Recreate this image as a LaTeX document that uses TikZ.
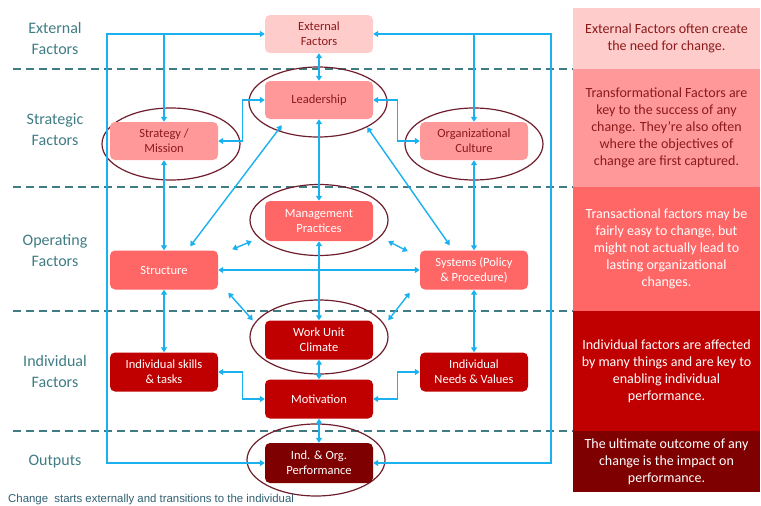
\documentclass[tikz,border=0pt]{standalone}
\usepackage{fontspec}
\setmainfont{Carlito}
\newfontfamily\capfont{Liberation Sans}
\usetikzlibrary{arrows.meta,calc}
\definecolor{lnk}{HTML}{1BB0EE}
\definecolor{dashc}{HTML}{3F7C84}
\definecolor{ell}{HTML}{6E1F2D}
\definecolor{cA}{HTML}{FFCCCC}
\definecolor{cB}{HTML}{FF9999}
\definecolor{cC}{HTML}{FF6666}
\definecolor{cD}{HTML}{C00000}
\definecolor{cE}{HTML}{7F0000}
\definecolor{dtxt}{HTML}{8C1A1A}
\definecolor{lbl}{HTML}{3F7C84}
\definecolor{captc}{HTML}{2F5F70}
\begin{document}
\begin{tikzpicture}[x=1pt,y=-1pt,
  box/.style={rectangle, rounded corners=5pt, minimum width=108pt, minimum height=38pt,
    align=center, font=\fontsize{12.5}{15}\selectfont, inner sep=1pt},
  bA/.style={box, fill=cA, text=dtxt},
  bB/.style={box, fill=cB, text=dtxt},
  bC/.style={box, fill=cC, text=white},
  bD/.style={box, fill=cD, text=white},
  bE/.style={box, fill=cE, text=white, minimum height=40pt},
  link/.style={draw=lnk, line width=1.4pt, {Triangle[length=5pt,width=6pt]}-{Triangle[length=5pt,width=6pt]}},
  onelink/.style={draw=lnk, line width=1.4pt, -{Triangle[length=5pt,width=6pt]}},
  ring/.style={draw=ell, line width=1.2pt},
  sep/.style={draw=dashc, line width=2.2pt, dash pattern=on 8pt off 5pt},
  lab/.style={text=lbl, align=center, font=\fontsize{16}{21}\selectfont},
  panel/.style={rectangle, minimum width=187pt, align=center, inner sep=0pt,
    font=\fontsize{14}{17}\selectfont}
]
\useasboundingbox (0,0) rectangle (761,506);

% separators
\draw[sep] (13,69) -- (573,69);
\draw[sep] (13,187) -- (573,187);
\draw[sep] (13,311) -- (573,311);
\draw[sep] (13,431) -- (573,431);

% right panels
\node[panel, fill=cA, text=dtxt, minimum height=61pt] (p1) at (666.5,38.5)
  {External Factors often create\\the need for change.};
\node[panel, fill=cB, text=dtxt, minimum height=118pt] (p2) at (666.5,128)
  {Transformational Factors are\\key to the success of any\\change. They’re also often\\where the objectives of\\change are first captured.};
\node[panel, fill=cC, text=white, minimum height=124pt] (p3) at (666.5,249)
  {Transactional factors may be\\fairly easy to change, but\\might not actually lead to\\lasting organizational\\changes.};
\node[panel, fill=cD, text=white, minimum height=120pt] (p4) at (666.5,371)
  {Individual factors are affected\\by many things and are key to\\enabling individual\\performance.};
\node[panel, fill=cE, text=white, minimum height=61pt] (p5) at (666.5,461.5)
  {The ultimate outcome of any\\change is the impact on\\performance.};

% left labels
\node[lab] (l1) at (55,39) {External\\Factors};
\node[lab] (l2) at (55,130) {Strategic\\Factors};
\node[lab] (l3) at (55,251) {Operating\\Factors};
\node[lab] (l4) at (55,372) {Individual\\Factors};
\node[lab] (l5) at (55,462) {Outputs};

% ellipses
\draw[ring] (318,102) ellipse [x radius=69pt, y radius=35pt];
\draw[ring] (171,144) ellipse [x radius=69pt, y radius=36pt];
\draw[ring] (474,144) ellipse [x radius=69pt, y radius=36pt];
\draw[ring] (319,220) ellipse [x radius=69pt, y radius=35.5pt];
\draw[ring] (319,337) ellipse [x radius=69pt, y radius=37pt];
\draw[ring] (316,460) ellipse [x radius=69pt, y radius=36pt];

% boxes
\node[bA] (ext) at (319,34) {External\\Factors};
\node[bB] (lead) at (319,100) {Leadership};
\node[bB] (strat) at (164,141) {Strategy /\\Mission};
\node[bB] (cult) at (474,141) {Organizational\\Culture};
\node[bC, minimum height=40pt] (mgmt) at (319,221) {Management\\Practices};
\node[bC, minimum height=39pt] (struct) at (164,270) {Structure};
\node[bC, minimum height=39pt] (sys) at (474,270) {Systems (Policy\\\& Procedure)};
\node[bD, minimum height=39pt] (work) at (319,340) {Work Unit\\Climate};
\node[bD, minimum height=39pt] (skills) at (164,372) {Individual skills\\\& tasks};
\node[bD, minimum height=39pt] (motiv) at (319,399) {Motivation};
\node[bD, minimum height=39pt] (needs) at (474,372) {Individual\\Needs \& Values};
\node[bE] (perf) at (319,463) {Ind. \& Org.\\Performance};

\coordinate (LB) at (107,463);
\coordinate (RB) at (551,463);

% connectors
\draw[link] (ext.west) -| (LB) -- (perf.west);
\draw[link] (ext.east) -| (RB) -- (perf.east);
\draw[onelink] (strat.north |- ext.west) -- (strat.north);
\draw[onelink] (cult.north |- ext.east) -- (cult.north);
\draw[link] (ext.south) -- (lead.north);
\draw[link] (strat.east) -- ++(24,0) |- (lead.west);
\draw[link] (lead.east) -- ++(24,0) |- (cult.west);
\draw[link] (strat.south) -- (struct.north);
\draw[link] (cult.south) -- (sys.north);
\draw[link] ($(lead.south west)+(17,6)$) -- ($(struct.north east)+(-28,-4)$);
\draw[link] ($(lead.south east)+(-6,8)$) -- ($(sys.north west)+(30,-5)$);
\draw[link] (lead.south) -- (mgmt.north);
\draw[link] (struct.east) -- (sys.west);
\draw[link] (mgmt.south) -- (work.north);
\draw[link] ($(struct.north east)+(14,-1)$) -- ($(mgmt.south west)+(-13,0)$);
\draw[link] ($(mgmt.south east)+(15,0)$) -- ($(sys.north west)+(-12,1)$);
\draw[link] ($(struct.south east)+(10,3)$) -- ($(work.north west)+(-12,0)$);
\draw[link] ($(sys.south west)+(-10,3)$) -- ($(work.north east)+(15,0)$);
\draw[link] (struct.south) -- (skills.north);
\draw[link] (sys.south) -- (needs.north);
\draw[link] (skills.east) -- ++(24,0) |- (motiv.west);
\draw[link] (motiv.east) -- ++(24,0) |- (needs.west);
\draw[link] (work.south) -- (motiv.north);
\draw[link] (motiv.south) -- (perf.north);

% caption
\node[anchor=west, text=captc, font=\capfont\fontsize{11.4}{13}\selectfont, inner sep=0pt] (cap) at (8,500)
  {Change\ \ starts externally and transitions to the individual};
\end{tikzpicture}
\end{document}
